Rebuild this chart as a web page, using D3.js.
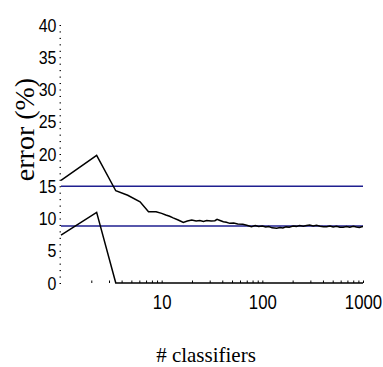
<!DOCTYPE html>
<html>
<head>
<meta charset="utf-8">
<script src="https://cdn.jsdelivr.net/npm/d3@7"></script>
<style>
  html, body { margin: 0; padding: 0; background: #fff; }
  svg { display: block; }
</style>
</head>
<body>
<svg id="chart" width="383" height="367"></svg>
<script>
// Ensemble size (log scale) against error rate
const sizesUpper = [1, 2.26, 3.5, 4.6, 6.1, 7.4, 8.8, 10, 11, 12, 13, 14.6, 16.4, 18, 19.9, 22, 24, 26, 28, 31, 33.8, 35.5, 38, 41, 44, 47.5, 52, 57, 64, 70, 78, 85, 92, 100, 108, 116, 125, 139, 150, 160, 172, 185, 202, 218, 235, 255, 275, 295, 320, 345, 375, 405, 435, 470, 505, 545, 590, 635, 685, 740, 800, 860, 920, 970, 1000];
const errorUpper = [15.9, 19.8, 14.3, 13.6, 12.6, 11.05, 11.05, 10.8, 10.55, 10.35, 10.1, 9.77, 9.4, 9.6, 9.77, 9.6, 9.7, 9.55, 9.68, 9.6, 9.66, 9.88, 9.7, 9.5, 9.42, 9.25, 9.3, 9.15, 9.1, 8.95, 8.73, 8.9, 8.75, 8.82, 8.68, 8.74, 8.55, 8.48, 8.6, 8.52, 8.7, 8.65, 8.84, 8.78, 8.9, 8.8, 8.92, 8.99, 8.85, 8.94, 8.8, 8.72, 8.73, 8.85, 8.7, 8.78, 8.64, 8.64, 8.76, 8.66, 8.8, 8.68, 8.62, 8.73, 8.75];
const sizesLower = [1, 2.26, 3.5, 1000];
const errorLower = [7.44, 10.96, 0, 0];
const referenceLevels = [15, 8.84];

const yTicks = d3.range(0, 41);
const xTicks = [2, 3, 4, 5, 6, 7, 8, 9, 10, 20, 30, 40, 50, 60, 70, 80, 90, 100, 200, 300, 400, 500, 600, 700, 800, 900, 1000];
const xLabels = [10, 100, 1000];

const numFont = "'Liberation Sans', Arial, Helvetica, sans-serif";
const serifFont = "'Liberation Serif', 'Times New Roman', Times, serif";

const svg = d3.select("#chart");
svg.append("rect").attr("width", 383).attr("height", 367).attr("fill", "#fff");

const x = d3.scaleLog().domain([1, 1000]).range([61, 363]);
const y = d3.scaleLinear().domain([0, 40]).range([283, 25]);

// y axis: a dot at every unit, numbers every 5
const yAxis = svg.append("g")
  .attr("transform", "translate(61,0)")
  .call(d3.axisLeft(y).tickValues(yTicks).tickSize(1.5).tickPadding(4)
    .tickFormat(d => d % 5 === 0 ? d : ""));
yAxis.select(".domain").remove();
yAxis.attr("font-family", numFont).attr("font-size", 19);
yAxis.selectAll("line").attr("stroke", "#000").attr("stroke-width", 1);
yAxis.selectAll("text").attr("fill", "#000").attr("transform", "scale(0.84,1)");

// x axis: short upward ticks, decade labels below
const xAxis = svg.append("g")
  .attr("transform", "translate(0,283)")
  .call(d3.axisBottom(x).tickValues(xTicks).tickSizeInner(-2.5).tickSizeOuter(0).tickPadding(12)
    .tickFormat(d => xLabels.includes(d) ? d : ""));
xAxis.select(".domain").remove();
xAxis.attr("font-family", numFont).attr("font-size", 20);
xAxis.selectAll("line").attr("stroke", "#000").attr("stroke-width", 1);
xAxis.selectAll("text").attr("fill", "#000").attr("transform", "scale(0.84,1)");

// horizontal reference levels
svg.append("g").selectAll("line").data(referenceLevels).join("line")
  .attr("x1", x(1)).attr("x2", x(1000))
  .attr("y1", d => y(d)).attr("y2", d => y(d))
  .attr("stroke", "#1f1f8f").attr("stroke-width", 1.3);

const line = d3.line().x(d => x(d[0])).y(d => y(d[1]));

svg.append("path")
  .datum(d3.zip(sizesUpper, errorUpper))
  .attr("d", line).attr("fill", "none").attr("stroke", "#000").attr("stroke-width", 1.5);

svg.append("path")
  .datum(d3.zip(sizesLower, errorLower))
  .attr("d", line).attr("fill", "none").attr("stroke", "#000").attr("stroke-width", 1.5);

// titles
svg.append("text")
  .attr("x", 206).attr("y", 362).attr("text-anchor", "middle")
  .attr("font-family", serifFont).attr("font-size", 21).text("# classifiers");

svg.append("text")
  .attr("transform", "translate(34,129.5) rotate(-90)")
  .attr("text-anchor", "middle")
  .attr("font-family", serifFont).attr("font-size", 28).text("error (%)");
</script>
</body>
</html>
